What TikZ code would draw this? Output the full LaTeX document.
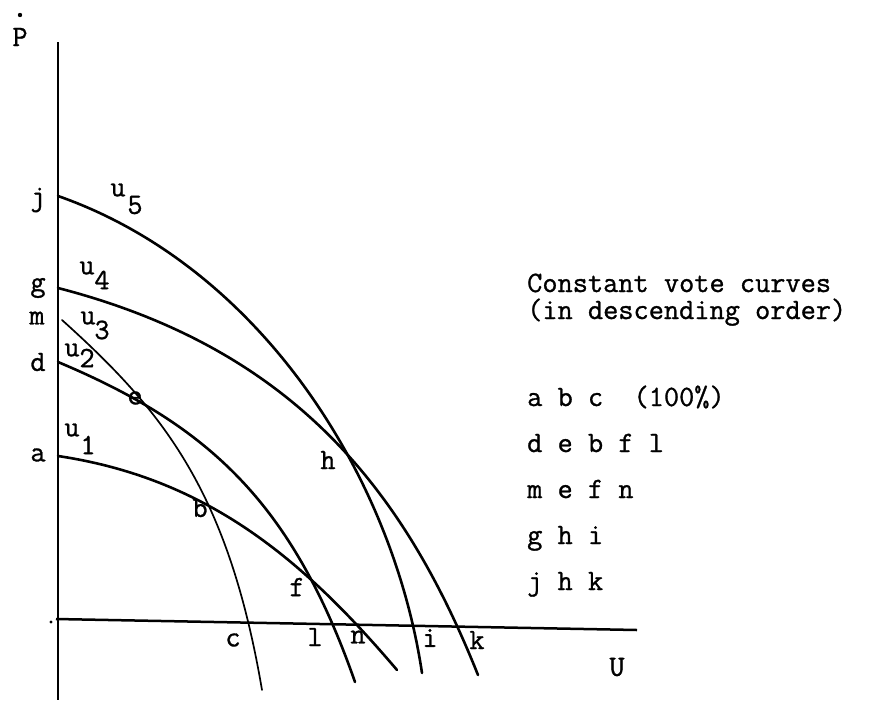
\documentclass[tikz,border=0pt]{standalone}
\usepackage{fontspec}
\newfontfamily\twfont{Latin Modern Mono}[FakeBold=1.0]
\begin{document}
\begin{tikzpicture}[x=1pt,y=-1pt,
  lbl/.style={inner sep=0pt,font=\twfont\fontsize{29.5}{32}\selectfont},
  thick curve/.style={line width=2.6pt,line cap=round,line join=round},
  thin curve/.style={line width=1.7pt,line cap=round,line join=round},
  axis/.style={line width=2.8pt}]
\useasboundingbox (0,0) rectangle (872,707);
% axes
\coordinate (otop) at (58,42);
\coordinate (obot) at (58,700);
\coordinate (oleft) at (56,619);
\coordinate (oright) at (637,630);
\draw[axis] (otop) -- (obot);
\draw[axis,line width=2.5pt] (oleft) -- (oright);
\fill (51,622) circle (1.6);
% curve end points
\coordinate (j0) at (58,196);  \coordinate (j1) at (422,673);
\coordinate (g0) at (58,288);  \coordinate (g1) at (478,675);
\coordinate (m0) at (62,320);  \coordinate (m1) at (262,690);
\coordinate (d0) at (58,362);  \coordinate (d1) at (355,682);
\coordinate (a0) at (58,456);  \coordinate (a1) at (397,670);
% curves
\draw[thick curve] (j0) .. controls (258,266) and (392,473) .. (j1);
\draw[thick curve] (g0) .. controls (298,350) and (406,495) .. (g1);
\draw[thin curve]  (m0) .. controls (162,410) and (228,490) .. (m1);
\draw[thick curve] (d0) .. controls (208,425) and (292,502) .. (d1);
\draw[thick curve] (a0) .. controls (208,478.5) and (303.5,560) .. (a1);
% axis labels
\node[lbl] (P) at (20,37) {P};
\fill (20,15) circle (2.2);
\node[lbl] (U) at (617,667) {U};
% point labels
\node[lbl] (lj) at (38,200) {j};
\node[lbl] (lg) at (38,288) {g};
\node[lbl] (lm) at (37,318) {m};
\node[lbl] (ld) at (38,362) {d};
\node[lbl] (la) at (38,455) {a};
\node[lbl] (le) at (135,398) {e};
\node[lbl] (lb) at (200,508) {b};
\node[lbl] (lh) at (328,460) {h};
\node[lbl] (lf) at (297,587) {f};
\node[lbl] (lc) at (233,640) {c};
\node[lbl] (ll) at (315,637) {l};
\node[lbl] (ln) at (358,637) {n};
\node[lbl] (li) at (430,638) {i};
\node[lbl] (lk) at (477,640) {k};
% curve labels
\node[lbl] (u5) at (118,190) {u};
\node[lbl] (u5n) at (135,205) {5};
\node[lbl] (u4) at (87,268) {u};
\node[lbl] (u4n) at (102,280) {4};
\node[lbl] (u3) at (88,318) {u};
\node[lbl] (u3n) at (102,330) {3};
\node[lbl] (u2) at (72,350) {u};
\node[lbl] (u2n) at (87,358) {2};
\node[lbl] (u1) at (72,430) {u};
\node[lbl] (u1n) at (88,445) {1};
% legend
\node[lbl,anchor=base west] (t1) at (527,292) {Constant vote curves};
\node[lbl,anchor=base west] (t2) at (527,319) {(in descending order)};
\node[lbl,anchor=base west] (r1) at (527,406) {a b c~~(100\%)};
\node[lbl,anchor=base west] (r2) at (527,452) {d e b f l};
\node[lbl,anchor=base west] (r3) at (527,498) {m e f n};
\node[lbl,anchor=base west] (r4) at (527,544) {g h i};
\node[lbl,anchor=base west] (r5) at (527,590) {j h k};
\end{tikzpicture}
\end{document}
